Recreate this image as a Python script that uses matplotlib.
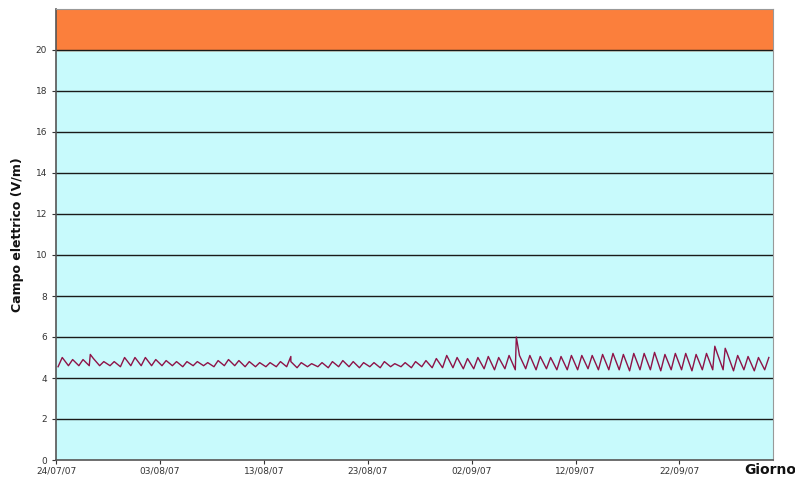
import numpy as np
import matplotlib
matplotlib.use("Agg")
import matplotlib.pyplot as plt

start = np.datetime64("2007-07-24")
tick_labels = ["24/07/07", "03/08/07", "13/08/07", "23/08/07", "02/09/07", "12/09/07", "22/09/07"]
y_ticks = [0, 2, 4, 6, 8, 10, 12, 14, 16, 18, 20]
limit_value = 20

daily_high = [5.0, 4.9, 4.9, 4.95, 4.8, 4.8, 5.0, 5.0, 5.0, 4.9,
              4.85, 4.8, 4.8, 4.8, 4.75, 4.85, 4.9, 4.85, 4.8, 4.75,
              4.75, 4.8, 4.8, 4.75, 4.7, 4.75, 4.8, 4.85, 4.8, 4.75,
              4.75, 4.8, 4.7, 4.75, 4.8, 4.85, 4.95, 5.1, 5.0, 4.95,
              5.0, 5.05, 5.0, 5.1, 5.1, 5.1, 5.05, 5.0, 5.05, 5.1,
              5.1, 5.1, 5.15, 5.2, 5.15, 5.2, 5.2, 5.25, 5.15, 5.2,
              5.2, 5.15, 5.2, 5.25, 5.2, 5.1, 5.05, 5.0, 5.0]
daily_low = [4.55, 4.6, 4.6, 4.6, 4.6, 4.6, 4.55, 4.6, 4.6, 4.6,
             4.6, 4.6, 4.55, 4.6, 4.6, 4.55, 4.6, 4.6, 4.55, 4.55,
             4.55, 4.55, 4.55, 4.5, 4.55, 4.55, 4.5, 4.55, 4.55, 4.5,
             4.55, 4.5, 4.55, 4.55, 4.5, 4.55, 4.5, 4.5, 4.5, 4.45,
             4.45, 4.45, 4.4, 4.45, 4.4, 4.45, 4.4, 4.45, 4.4, 4.4,
             4.4, 4.45, 4.4, 4.4, 4.4, 4.35, 4.4, 4.4, 4.35, 4.4,
             4.4, 4.35, 4.4, 4.4, 4.4, 4.35, 4.4, 4.35, 4.4]
# isolated short spikes (day offset from 24/07/07, value)
spike_days = [3.3, 22.6, 44.3, 63.4, 64.4]
spike_values = [5.15, 5.05, 6.0, 5.55, 5.45]

# build time series: low in the early morning, high in the afternoon
times_h = []
values = []
for d, (lo, hi) in enumerate(zip(daily_low, daily_high)):
    times_h.append((d + 0.2) * 24)
    values.append(lo)
    times_h.append((d + 0.6) * 24)
    values.append(hi)
for sd, sv in zip(spike_days, spike_values):
    times_h.append(sd * 24)
    values.append(sv)
order = np.argsort(times_h)
times_h = np.array(times_h)[order]
values = np.array(values)[order]
times = start.astype("datetime64[m]") + (times_h * 60).astype(int).astype("timedelta64[m]")

fig = plt.figure(figsize=(7.95, 4.83), dpi=100)
ax = fig.add_axes([56/795, 23/483, (773-56)/795, (460-9)/483])

x0 = start
x1 = start + np.timedelta64(69, "D")
ax.set_xlim(x0, x1)
ax.set_ylim(0, 22)

ax.axhspan(0, limit_value, color="#c8fafc", zorder=0)
ax.axhspan(limit_value, 22, color="#fb7f3c", zorder=0)
for y in y_ticks[1:]:
    ax.axhline(y, color="#1a1a1a", lw=1.0, zorder=1)

ax.plot(times, values, color="#8e1448", lw=1.0, zorder=3)

tick_dates = [start + np.timedelta64(10 * i, "D") for i in range(len(tick_labels))]
ax.set_xticks(tick_dates)
ax.set_xticklabels(tick_labels)
ax.set_yticks(y_ticks)
ax.set_yticklabels([str(v) for v in y_ticks])
ax.tick_params(axis="both", labelsize=6.5, colors="#333333", length=3, direction="out", width=0.8)
ax.tick_params(axis="x", pad=2)

for s in ["left", "bottom"]:
    ax.spines[s].set_color("#555555")
    ax.spines[s].set_linewidth(1.2)
for s in ["top", "right"]:
    ax.spines[s].set_color("#999999")
    ax.spines[s].set_linewidth(0.8)

ax.set_ylabel("Campo elettrico (V/m)", fontsize=9, fontweight="bold", color="#111111", labelpad=8)
fig.text(770/795, 1 - 470/483, "Giorno", ha="center", va="center", fontsize=10, fontweight="bold", color="#111111")

fig.savefig("out.png", dpi=100)
